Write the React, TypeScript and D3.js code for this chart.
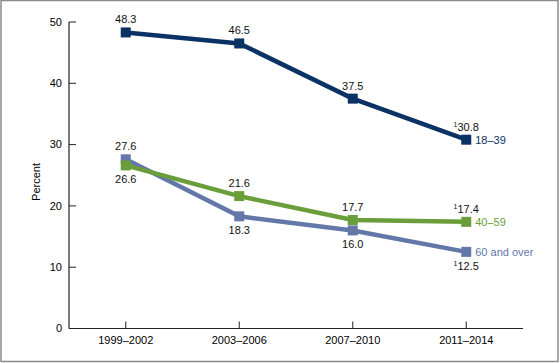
import React, { useEffect, useRef } from "react";
import { select, scaleLinear, scalePoint, line } from "d3";

const periods = ["1999–2002", "2003–2006", "2007–2010", "2011–2014"];
const age18to39 = [48.3, 46.5, 37.5, 30.8];
const age40to59 = [26.6, 21.6, 17.7, 17.4];
const age60plus = [27.6, 18.3, 16.0, 12.5];
// which value labels sit under the marker, and which carry the footnote mark
const below40to59 = [true, false, false, false];
const below60plus = [false, true, true, true];
const footnoted = [false, false, false, true];
const yTicks = [0, 10, 20, 30, 40, 50];

const series = [
  { name: "18–39", values: age18to39, below: [false, false, false, false], color: "#0b3264" },
  { name: "40–59", values: age40to59, below: below40to59, color: "#6a9e3a" },
  { name: "60 and over", values: age60plus, below: below60plus, color: "#6378a8" },
];

const W = 560;
const H = 363;

function App() {
  const svgRef = useRef<SVGSVGElement>(null);

  useEffect(() => {
    const svg = select(svgRef.current);
    svg.selectAll("*").remove();
    const font = "Liberation Sans, Arial, sans-serif";

    const x = scalePoint<string>().domain(periods).range([69, 523]).padding(0.5);
    const y = scaleLinear().domain([0, 50]).range([328.5, 22]);

    // frame
    svg.append("rect")
      .attr("x", 1).attr("y", 0.5).attr("width", W - 3).attr("height", H - 2)
      .attr("fill", "white").attr("stroke", "#8a8a8a").attr("stroke-width", 1.5);

    // y axis
    const yAxis = svg.append("g");
    yAxis.append("line")
      .attr("x1", 69).attr("x2", 69).attr("y1", y(50)).attr("y2", y(0))
      .attr("stroke", "#222").attr("stroke-width", 1.2);
    yAxis.selectAll(".tick")
      .data(yTicks)
      .join("line")
      .attr("x1", 69).attr("x2", 76)
      .attr("y1", d => y(d)).attr("y2", d => y(d))
      .attr("stroke", "#222").attr("stroke-width", 1);
    yAxis.selectAll(".lbl")
      .data(yTicks)
      .join("text")
      .attr("x", 62).attr("y", d => y(d))
      .attr("dy", "0.35em")
      .attr("text-anchor", "end")
      .attr("font-family", font).attr("font-size", 11)
      .text(d => d);

    svg.append("text")
      .attr("transform", `translate(40, 182) rotate(-90)`)
      .attr("text-anchor", "middle")
      .attr("font-family", font).attr("font-size", 11)
      .text("Percent");

    // x axis
    const xAxis = svg.append("g");
    xAxis.append("line")
      .attr("x1", 69).attr("x2", 523).attr("y1", y(0)).attr("y2", y(0))
      .attr("stroke", "#222").attr("stroke-width", 1.2);
    xAxis.selectAll(".tick")
      .data(periods)
      .join("line")
      .attr("x1", d => x(d)!).attr("x2", d => x(d)!)
      .attr("y1", y(0)).attr("y2", y(0) - 7)
      .attr("stroke", "#222").attr("stroke-width", 1);
    xAxis.selectAll(".lbl")
      .data(periods)
      .join("text")
      .attr("x", d => x(d)!).attr("y", y(0) + 15)
      .attr("text-anchor", "middle")
      .attr("font-family", font).attr("font-size", 11)
      .text(d => d);

    const lineGen = line<number>()
      .x((_, i) => x(periods[i])!)
      .y(d => y(d));

    // draw 60+ first, then 40-59, then 18-39
    [series[2], series[1], series[0]].forEach(s => {
      const g = svg.append("g");
      g.append("path")
        .attr("d", lineGen(s.values))
        .attr("fill", "none")
        .attr("stroke", s.color)
        .attr("stroke-width", 4.5);
      g.selectAll("rect")
        .data(s.values)
        .join("rect")
        .attr("x", (_, i) => x(periods[i])! - 5)
        .attr("y", d => y(d) - 5)
        .attr("width", 10).attr("height", 10)
        .attr("fill", s.color);
    });

    // value labels
    series.forEach(s => {
      s.values.forEach((v, i) => {
        const cx = x(periods[i])!;
        const cy = y(v);
        const t = svg.append("text")
          .attr("x", cx)
          .attr("y", s.below[i] ? cy + 18 : cy - 9)
          .attr("text-anchor", "middle")
          .attr("font-family", font).attr("font-size", 11)
          .attr("fill", "#111");
        if (footnoted[i]) {
          t.append("tspan").attr("font-size", 7).attr("dy", -4).text("1");
          t.append("tspan").attr("dy", 4).text(v.toFixed(1));
        } else {
          t.text(v.toFixed(1));
        }
      });
      const last = s.values.length - 1;
      svg.append("text")
        .attr("x", x(periods[last])! + 9)
        .attr("y", y(s.values[last]))
        .attr("dy", "0.35em")
        .attr("font-family", font).attr("font-size", 11)
        .attr("fill", s.color)
        .text(s.name);
    });
  }, []);

  return (
    <svg
      ref={svgRef}
      width={W}
      height={H}
      style={{ position: "absolute", left: 0, top: 0, background: "white" }}
    />
  );
}

export default App;
